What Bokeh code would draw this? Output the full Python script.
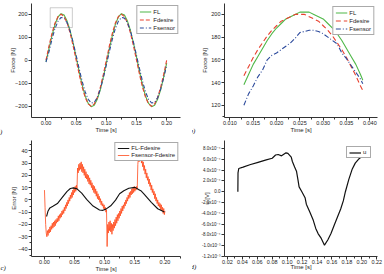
from bokeh.plotting import figure
from bokeh.layouts import gridplot
from bokeh.models import (Range1d, Legend, LegendItem, Label, BoxAnnotation,
                          SingleIntervalTicker, FixedTicker, PrintfTickFormatter)
from bokeh.embed import file_html
from bokeh.resources import INLINE

# ---------------- data ----------------
# panel a: full force signals
t_a = [round(0.005 * k, 3) for k in range(41)]
fl_a = [-6, 50, 108, 156, 188, 202, 196, 170, 129, 74, 13, -50, -108, -156, -188, -202,
        -196, -170, -129, -74, -13, 50, 108, 156, 188, 202, 196, 170, 129, 74, 13, -50,
        -108, -156, -188, -202, -196, -170, -129, -74, -13]
fdes_a = [0, 62, 118, 162, 190, 200, 190, 162, 118, 62, 0, -62, -118, -162, -190, -200,
          -190, -162, -118, -62, 0, 62, 118, 162, 190, 200, 190, 162, 118, 62, 0, -62,
          -118, -162, -190, -200, -190, -162, -118, -62, 0]
fsen_a = [-8, 37, 92, 138, 170, 186, 183, 163, 126, 78, 21, -37, -92, -138, -170, -186,
          -183, -163, -126, -78, -21, 37, 92, 138, 170, 186, 183, 163, 126, 78, 21, -37,
          -92, -138, -170, -186, -183, -163, -126, -78, -21]
zoom_box_t = [0.007, 0.0437]
zoom_box_f = [142, 228]

# panel b: zoom on first peak
t_b = [0.013, 0.014, 0.015, 0.016, 0.017, 0.018, 0.019, 0.020, 0.021, 0.022, 0.023, 0.024,
       0.025, 0.026, 0.027, 0.028, 0.029, 0.030, 0.031, 0.032, 0.033, 0.034, 0.035, 0.036,
       0.037, 0.038, 0.0385]
fl_b = [138, 147, 156, 163, 170, 177, 183, 188, 192, 196, 198, 200, 202, 202, 202, 200,
        198, 196, 192, 188, 183, 177, 170, 163, 156, 147, 142]
fdes_b = [146, 154, 162, 169, 175, 181, 186, 190, 194, 196, 198, 200, 200, 200, 198, 196,
          194, 190, 186, 181, 175, 169, 162, 154, 146, 137, 133]
fsen_b = [120, 130, 137, 145, 151, 160, 164, 166, 169, 172, 175, 179, 184, 185, 186, 186,
          185, 183, 180, 177, 174, 166, 161, 155, 149, 143, 139]

# panel c: errors
t_c1 = [0.0035, 0.006, 0.009, 0.014, 0.0215, 0.0296, 0.0376, 0.043, 0.048, 0.054, 0.0618,
        0.070, 0.0807, 0.0914, 0.097, 0.102, 0.110, 0.118, 0.1247, 0.1317, 0.140, 0.1505,
        0.156, 0.160, 0.165, 0.1774, 0.188, 0.199]
e_c1 = [-13.5, -9, -6.5, -5.2, -3, 2, 7, 9.3, 9.8, 9, 5.5, 0.5, -5, -8.2, -8.5, -7.5, -4.8,
        -0.2, 5, 7.5, 9.5, 10.2, 8.5, 7.5, 5, -2, -7.2, -9.9]
t_c2 = [round(0.001 * i, 3) for i in range(201)]
e_c2 = [8, -6, -20, -27, -30, -25, -29, -24, -27, -22,
        -26, -21, -24, -19, -23, -18, -22, -17, -21, -16,
        -19, -15, -18, -13, -17, -12, -15, -11, -14, -9,
        -12, -8, -11, -6, -9, -4, -7, -2, -5, 0,
        -3, 2, -1, 4, 1, 6, 2, 8, 4, 10,
        6, 11, 7, 12, 9, 26, 22, 29, 24, 30,
        25, 31, 23, 29, 22, 27, 20, 25, 18, 23,
        17, 21, 15, 20, 13, 18, 12, 16, 10, 14,
        8, 12, 6, 11, 5, 9, 3, 7, 1, 5,
        0, 3, -2, 1, -4, -1, -5, -3, -7, -4,
        -8, -6, -10, -8, -38, -20, -27, -18, -25, -17,
        -26, -19, -28, -20, -25, -18, -23, -16, -21, -14,
        -19, -12, -17, -11, -15, -9, -13, -7, -11, -5,
        -9, -4, -7, -2, -5, 0, -3, 2, -1, 4,
        1, 6, 2, 7, 4, 9, 5, 10, 6, 11,
        7, 10, 8, 11, 9, 29, 35, 31, 37, 32,
        36, 30, 34, 27, 31, 24, 28, 21, 25, 18,
        22, 16, 19, 13, 17, 11, 14, 8, 12, 6,
        9, 4, 7, 1, 5, -1, 2, -3, 0, -5,
        -2, -6, -3, -8, -4, -9, -6, -11, -7, -12,
        -9]

# panel d: control signal
t_d = [0.034, 0.0342, 0.0352, 0.041, 0.050, 0.061, 0.072, 0.080, 0.0845, 0.088, 0.0925,
       0.0985, 0.101, 0.1055, 0.107, 0.110, 0.1125, 0.1145, 0.116, 0.1197, 0.124, 0.1257,
       0.1305, 0.135, 0.1383, 0.1414, 0.1457, 0.150, 0.1544, 0.1587, 0.163, 0.1674,
       0.1717, 0.1752, 0.178, 0.1825, 0.1869, 0.1912, 0.1955, 0.200]
u_d = [0.0, 3.5e-4, 4.3e-4, 4.55e-4, 5.0e-4, 5.45e-4, 5.9e-4, 6.2e-4, 6.8e-4, 6.9e-4,
       6.65e-4, 7.2e-4, 7.1e-4, 6.4e-4, 5.6e-4, 4.6e-4, 3.8e-4, 2.2e-4, 0.9e-4, 0.0,
       -1.1e-4, -2.3e-4, -3.8e-4, -5.3e-4, -6.8e-4, -7.75e-4, -8.65e-4, -9.9e-4,
       -8.95e-4, -7.75e-4, -6.2e-4, -4.7e-4, -3.2e-4, -1.7e-4, 0.0, 2.25e-4, 4.1e-4,
       5.3e-4, 6.0e-4, 6.5e-4]
u_ticks = [8e-4, 6e-4, 4e-4, 2e-4, 0.0, -2e-4, -4e-4, -6e-4, -8e-4, -1e-3, -1.2e-3]
u_tick_labels = ["8.0x10\u207b\u2074", "6.0x10\u207b\u2074", "4.0x10\u207b\u2074",
                 "2.0x10\u207b\u2074", "0.0", "-2.0x10\u207b\u2074", "-4.0x10\u207b\u2074",
                 "-6.0x10\u207b\u2074", "-8.0x10\u207b\u2074", "-1.0x10\u207b\u00b3",
                 "-1.2x10\u207b\u00b3"]

# ---------------- styling ----------------
FONT = "Liberation Sans"
AX = "#333333"
GREEN = "#4fb848"
RED = "#e8412f"
BLUE = "#2c4a9c"
ORANGE = "#ff4a1c"


def make_fig(xr, yr, bl, br, bt, bb, xls, yls):
    p = figure(width=192, height=137, x_range=Range1d(*xr), y_range=Range1d(*yr),
               output_backend="svg", toolbar_location=None,
               min_border_left=bl, min_border_right=br,
               min_border_top=bt, min_border_bottom=bb)
    p.outline_line_color = None
    p.grid.visible = False
    p.background_fill_color = "white"
    p.border_fill_color = "white"
    for ax in (p.xaxis[0], p.yaxis[0]):
        ax.axis_line_color = AX
        ax.axis_line_width = 1
        ax.major_tick_line_color = AX
        ax.minor_tick_line_color = AX
        ax.major_tick_out = 3
        ax.major_tick_in = 0
        ax.minor_tick_out = 2
        ax.minor_tick_in = 0
        ax.major_label_text_font = FONT
        ax.major_label_text_font_size = "5.5px"
        ax.major_label_text_color = "#222222"
        ax.axis_label_text_font = FONT
        ax.axis_label_text_font_size = "6px"
        ax.axis_label_text_font_style = "normal"
        ax.axis_label_text_color = "#222222"
    p.xaxis.major_label_standoff = 0
    p.yaxis.major_label_standoff = 1
    p.xaxis.axis_label_standoff = xls
    p.yaxis.axis_label_standoff = yls
    return p


def make_legend(p, items, margin, font_size="6px", gw=12, lh=7):
    lg = Legend(items=[LegendItem(label=l, renderers=[r]) for l, r in items],
                location="top_right")
    lg.label_text_font = FONT
    lg.label_text_font_size = font_size
    lg.label_text_color = "#222222"
    lg.glyph_width = gw
    lg.glyph_height = lh
    lg.label_height = lh
    lg.label_width = 5
    lg.label_standoff = 2
    lg.spacing = 1
    lg.padding = 2
    lg.margin = margin
    lg.border_line_color = "#555555"
    lg.border_line_width = 0.8
    lg.background_fill_color = "white"
    lg.background_fill_alpha = 1
    p.add_layout(lg)
    return lg


def panel_label(p, txt, x, y):
    p.add_layout(Label(x=x, y=y, x_units="screen", y_units="screen", text=txt,
                       text_font="Liberation Serif", text_font_size="7px",
                       text_font_style="italic", text_color="#222222",
                       text_baseline="bottom"), "left")


# ---------------- panel a ----------------
pa = make_fig((-0.024, 0.2229), (-249, 246.5), 31, 7, 3, 20, -1, -4)
pa.xaxis.ticker = SingleIntervalTicker(interval=0.05, num_minor_ticks=2)
pa.xaxis.formatter = PrintfTickFormatter(format="%.2f")
pa.yaxis.ticker = SingleIntervalTicker(interval=100, num_minor_ticks=2)
pa.xaxis.axis_label = "Time [s]"
pa.yaxis.axis_label = "Force [N]"
ra1 = pa.line(t_a, fl_a, line_color=GREEN, line_width=1.1)
ra2 = pa.line(t_a, fdes_a, line_color=RED, line_width=1.1, line_dash="4 2")
ra3 = pa.line(t_a, fsen_a, line_color=BLUE, line_width=1.1, line_dash="4 2 1 2")
pa.add_layout(BoxAnnotation(left=zoom_box_t[0], right=zoom_box_t[1],
                            bottom=zoom_box_f[0], top=zoom_box_f[1],
                            fill_alpha=0, line_color="#555555", line_width=1))
make_legend(pa, [("FL", ra1), ("Fdesire", ra2), ("Fsensor", ra3)], 2)
panel_label(pa, "a)", -5, -18)

# ---------------- panel b ----------------
pb = make_fig((0.00884, 0.04165), (109.2, 209.6), 32, 7, 2, 20, -1, 0)
pb.xaxis.ticker = SingleIntervalTicker(interval=0.005, num_minor_ticks=2)
pb.xaxis.formatter = PrintfTickFormatter(format="%.3f")
pb.yaxis.ticker = SingleIntervalTicker(interval=20, num_minor_ticks=2)
pb.xaxis.axis_label = "Time [s]"
pb.yaxis.axis_label = "Force [N]"
rb1 = pb.line(t_b, fl_b, line_color=GREEN, line_width=1.1)
rb2 = pb.line(t_b, fdes_b, line_color=RED, line_width=1.1, line_dash="5 3")
rb3 = pb.line(t_b, fsen_b, line_color=BLUE, line_width=1.1, line_dash="5 2 1 2")
make_legend(pb, [("FL", rb1), ("Fdesire", rb2), ("Fsensor", rb3)], 3)
panel_label(pb, "b)", -4, -17)

# ---------------- panel c ----------------
pc = make_fig((-0.0215, 0.2258), (-46.1, 48.4), 27, 12, 1, 16, -1, -2)
pc.xaxis.ticker = SingleIntervalTicker(interval=0.05, num_minor_ticks=2)
pc.xaxis.formatter = PrintfTickFormatter(format="%.2f")
pc.yaxis.ticker = SingleIntervalTicker(interval=10, num_minor_ticks=2)
pc.xaxis.axis_label = "Time [s]"
pc.yaxis.axis_label = "Error [N]"
rc2 = pc.line(t_c2, e_c2, line_color=ORANGE, line_width=0.8)
rc1 = pc.line(t_c1, e_c1, line_color="#111111", line_width=1.1)
make_legend(pc, [("FL-Fdesire", rc1), ("Fsensor-Fdesire", rc2)], 2, lh=6)
panel_label(pc, "c)", -3, -15)

# ---------------- panel d ----------------
pdd = make_fig((0.0161, 0.221), (-1.2e-3, 9.49e-4), 30, 4, 3, 15, -3, -11)
pdd.xaxis.ticker = SingleIntervalTicker(interval=0.02, num_minor_ticks=2)
pdd.xaxis.formatter = PrintfTickFormatter(format="%.2f")
pdd.yaxis.ticker = FixedTicker(ticks=u_ticks)
pdd.yaxis.major_label_overrides = dict(zip(u_ticks, u_tick_labels))
pdd.yaxis.major_label_text_font_size = "4.5px"
pdd.xaxis.axis_label = "Time [s]"
pdd.yaxis.axis_label = "u [V]"
rd = pdd.line(t_d, u_d, line_color="#111111", line_width=1.2)
make_legend(pdd, [("u", rd)], 6, lh=5)
panel_label(pdd, "d)", -4, -14)

grid = gridplot([[pa, pb], [pc, pdd]], toolbar_location=None)
open("out.html", "w").write(file_html(grid, INLINE))
